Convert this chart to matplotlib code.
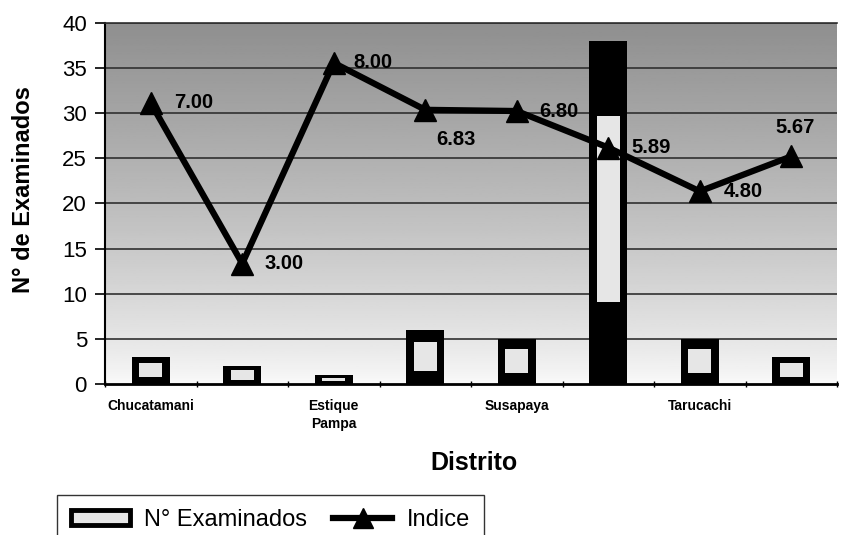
import numpy as np
import matplotlib
matplotlib.use("Agg")
import matplotlib.pyplot as plt
from matplotlib.patches import Rectangle
from matplotlib.lines import Line2D

plt.rcParams['font.family'] = ['Liberation Sans', 'DejaVu Sans']

# ---- data ----
distritos = ["Chucatamani", "Estique", "Estique\nPampa", "Sitajara",
             "Susapaya", "Tarata", "Tarucachi", "Ticaco"]
examinados = [3, 2, 1, 6, 5, 38, 5, 3]
indice = [7.00, 3.00, 8.00, 6.83, 6.80, 5.89, 4.80, 5.67]
indice_labels = ["7.00", "3.00", "8.00", "6.83", "6.80", "5.89", "4.80", "5.67"]
label_offsets = [(23, 0), (22, 0), (20, 0), (11, -30), (22, 0), (23, 0), (24, 0), (4, 29)]
label_ha = ["left", "left", "left", "left", "left", "left", "left", "center"]
yticks = [0, 5, 10, 15, 20, 25, 30, 35, 40]

W, H = 841, 535
fig = plt.figure(figsize=(W / 100, H / 100), dpi=100)
ax = fig.add_axes([105 / W, 1 - 384 / H, (837 - 105) / W, (384 - 22.7) / H])

n = len(distritos)
x = np.arange(n)
ax.set_xlim(-0.5, n - 0.5)
ax.set_ylim(0, 40)

# background gradient (dark at top, light at bottom)
yy = np.linspace(0, 1, 200)
grad = 0.98 - 0.42 * yy ** 0.8
ax.imshow(grad[:, None], extent=[-0.5, n - 0.5, 0, 40], origin="lower",
          aspect="auto", cmap="gray", vmin=0, vmax=1, zorder=0)

# gridlines
for t in yticks[1:]:
    ax.axhline(t, color="#303030", lw=1.2, zorder=1)

# bars: black outer, light inner
bw = 0.42
ax.bar(x, examinados, width=bw, color="black", zorder=2)
inner_bottom = [max(0.3, 0.24 * v) for v in examinados]
inner_top = [v - max(0.35, 0.22 * v) for v in examinados]
inner_h = [t - b for t, b in zip(inner_top, inner_bottom)]
ax.bar(x, inner_h, bottom=inner_bottom, width=bw - 0.17, color="#e6e6e6", zorder=3)

# secondary hidden axis for Indice
ax2 = ax.twinx()
ax2.set_ylim(0, 9)
ax2.set_axis_off()
ax2.plot(x, indice, color="black", lw=4.5, marker="^", markersize=16, zorder=5)
for xi, yi, lab, off, ha in zip(x, indice, indice_labels, label_offsets, label_ha):
    ax2.annotate(lab, (xi, yi), xytext=off, textcoords="offset pixels",
                 ha=ha, va="center", fontsize=14.5, fontweight="bold", color="black")

# axes styling
ax.set_yticks(yticks)
ax.set_yticklabels([str(t) for t in yticks], fontsize=16)
ax.tick_params(axis="y", length=7, width=1.2, pad=6, direction="out")

ax.set_xticks(np.arange(n + 1) - 0.5)
ax.set_xticklabels([])
ax.tick_params(axis="x", which="major", length=5, width=1, direction="inout")
ax.set_xticks(x, minor=True)
ax.set_xticklabels([d if i % 2 == 0 else "" for i, d in enumerate(distritos)], minor=True,
                   fontsize=10, fontweight="bold", va="top", linespacing=1.3)
ax.tick_params(axis="x", which="minor", length=0, pad=11)

ax.spines["right"].set_visible(False)
ax.spines["top"].set_color("#303030")
ax.spines["top"].set_linewidth(1.2)
ax.spines["left"].set_linewidth(1.5)
ax.spines["bottom"].set_linewidth(2)

fig.text(24 / W, 1 - 190 / H, "N° de Examinados", rotation=90, ha="center", va="center",
         fontsize=17, fontweight="bold")
fig.text(474 / W, 1 - 463 / H, "Distrito", ha="center", va="center",
         fontsize=18, fontweight="bold")

# legend
h_bar = Rectangle((0, 0), 1, 1, facecolor="#e6e6e6", edgecolor="black", linewidth=3.5)
h_line = Line2D([], [], color="black", lw=4.5, marker="^", markersize=14)
leg = fig.legend([h_bar, h_line], ["N° Examinados", "Indice"], loc="upper left",
                 bbox_to_anchor=(57 / W, 1 - 495 / H), ncol=2, fontsize=17,
                 frameon=True, fancybox=False, edgecolor="black", handlelength=2.5,
                 handleheight=0.6, columnspacing=1.1, handletextpad=0.6,
                 borderpad=0.6, borderaxespad=0)
leg.get_frame().set_linewidth(1.0)

fig.savefig("out.png", dpi=100)
